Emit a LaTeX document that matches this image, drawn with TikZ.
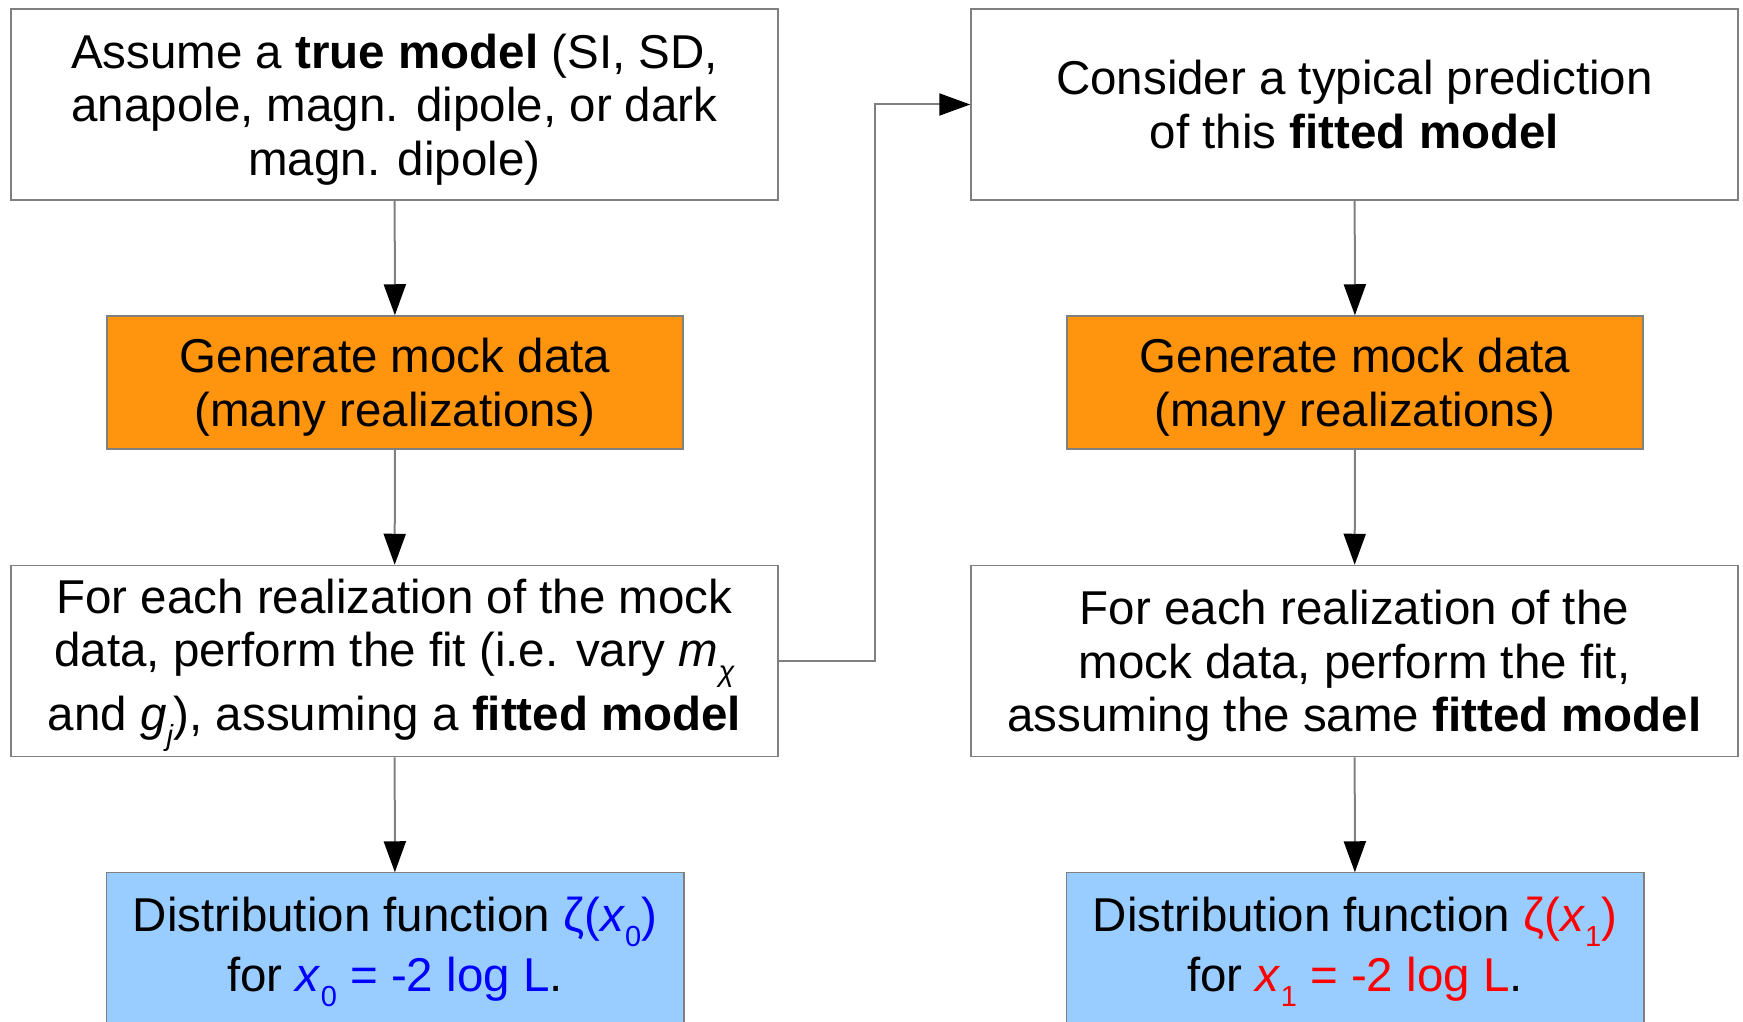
\documentclass[tikz,border=0pt]{standalone}
\usepackage{fontspec}
\setmainfont{Liberation Sans}
\usetikzlibrary{arrows.meta,backgrounds,calc}
\definecolor{boxorange}{HTML}{FF950E}
\definecolor{boxblue}{HTML}{99CCFF}
\definecolor{linegray}{HTML}{808080}
\newcommand\lowsub[1]{\raisebox{-0.32em}{\fontsize{29}{29}\selectfont #1}}
\tikzset{
  basebox/.style={draw=linegray, line width=1.5pt, inner sep=0pt, align=center,
    font=\fontsize{47.5}{53.6}\selectfont, text=black, text depth=0pt},
  widebox/.style={basebox, fill=white, minimum width=767pt, minimum height=191pt},
  orangebox/.style={basebox, fill=boxorange, minimum width=576pt, minimum height=133pt},
  bluetext/.style={basebox, draw=none, minimum width=576pt, minimum height=142pt},
  flow/.style={draw=linegray, line width=2pt, -{Triangle[length=31pt,width=22pt,color=black]}}
}
\begin{document}
\begin{tikzpicture}[x=1pt,y=-1pt]
\useasboundingbox (0,0) rectangle (1743,1022);
\clip (0,0) rectangle (1743,1022);
% left column
\node[widebox] (b1) at (394.5,104.5) {Assume a \textbf{true model} (SI, SD,\\anapole, magn. dipole, or dark\\magn. dipole)};
\node[orangebox] (b2) at (395,382.5) {Generate mock data\\(many realizations)};
\node[widebox, text depth=13pt] (b3) at (394.5,661) {For each realization of the mock\\data, perform the fit (i.e. vary \textit{m}\lowsub{\textit{χ}}\\[7pt]and \textit{g}\lowsub{\textit{j}}), assuming a \textbf{fitted model}};
\node[bluetext] (b4) at (395,944) {Distribution function {\color{blue}ζ(\textit{x}\lowsub{0})}\\[6pt]for {\color{blue}\textit{x}\lowsub{0} = -2 log L}.};
% right column
\node[widebox] (b5) at (1354.5,104.5) {Consider a typical prediction\\of this \textbf{fitted model}};
\node[orangebox] (b6) at (1355,382.5) {Generate mock data\\(many realizations)};
\node[widebox] (b7) at (1354.5,661) {For each realization of the\\mock data, perform the fit,\\assuming the same \textbf{fitted model}};
\node[bluetext] (b8) at (1355,944) {Distribution function {\color{red}ζ(\textit{x}\lowsub{1})}\\[6pt]for {\color{red}\textit{x}\lowsub{1} = -2 log L}.};
\begin{scope}[on background layer]
  \fill[white] (0,0) rectangle (1743,1022);
  \draw[draw=linegray, line width=1.5pt, fill=boxblue] (b4.north west) -- (b4.north east) -- ++(0,200) -- ($(b4.north west)+(0,200)$) -- cycle;
  \draw[draw=linegray, line width=1.5pt, fill=boxblue] (b8.north west) -- (b8.north east) -- ++(0,200) -- ($(b8.north west)+(0,200)$) -- cycle;
\end{scope}
% connectors
\draw[flow] (b1) -- (b2);
\draw[flow] (b2) -- (b3);
\draw[flow] (b3) -- (b4);
\draw[flow] (b5) -- (b6);
\draw[flow] (b6) -- (b7);
\draw[flow] (b7) -- (b8);
\coordinate (bend) at (875,661);
\draw[flow] (b3.east) -- (bend) |- (b5.west);
\end{tikzpicture}
\end{document}
